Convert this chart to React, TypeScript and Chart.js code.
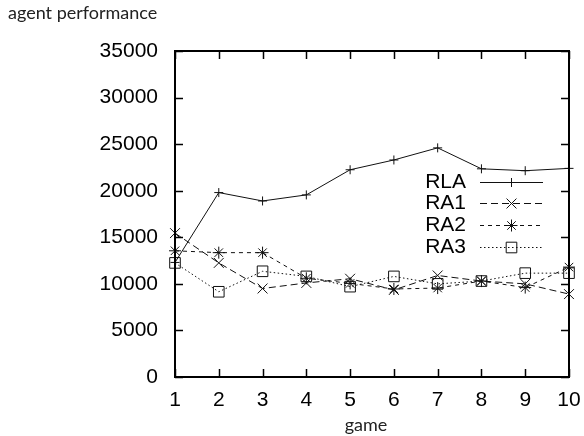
import React, { useEffect, useRef } from "react";
import { Chart, registerables } from "chart.js";
import { drawPoint } from "chart.js/helpers";

Chart.register(...registerables);

const chartTitle = "agent performance";
const xTitle = "game";
const games = [1, 2, 3, 4, 5, 6, 7, 8, 9, 10];
const seriesNames = ["RLA", "RA1", "RA2", "RA3"];
const rla = [12300, 19800, 18900, 19550, 22250, 23300, 24600, 22350, 22150, 22400];
const ra1 = [15450, 12250, 9500, 10100, 10550, 9350, 10900, 10300, 10000, 8900];
const ra2 = [13550, 13350, 13350, 10600, 10050, 9450, 9550, 10300, 9600, 11800];
const ra3 = [12250, 9150, 11350, 10800, 9700, 10800, 10000, 10300, 11150, 11150];
const yTicks = [0, 5000, 10000, 15000, 20000, 25000, 30000, 35000];

const TICK_FONT = "Liberation Sans, Arial, sans-serif";
const LABEL_FONT = "Lato, 'Open Sans', sans-serif";

const framePlugin = {
  id: "gnuFrame",
  afterDatasetsDraw(chart: any) {
    const { ctx, chartArea } = chart;
    const { left, right, top, bottom } = chartArea;
    const xs = chart.scales.x;
    const ys = chart.scales.y;
    ctx.save();
    ctx.strokeStyle = "#000";
    ctx.lineWidth = 2;
    ctx.strokeRect(left, top, right - left, bottom - top);
    ctx.lineWidth = 1.5;
    const tl = 8;
    ctx.beginPath();
    games.forEach((g) => {
      const px = Math.round(xs.getPixelForValue(g)) + 0.5;
      ctx.moveTo(px, bottom);
      ctx.lineTo(px, bottom - tl);
      ctx.moveTo(px, top);
      ctx.lineTo(px, top + tl);
    });
    yTicks.forEach((v) => {
      const py = Math.round(ys.getPixelForValue(v)) + 0.5;
      ctx.moveTo(left, py);
      ctx.lineTo(left + tl, py);
      ctx.moveTo(right, py);
      ctx.lineTo(right - tl, py);
    });
    ctx.stroke();

    // legend (gnuplot style: right-aligned labels, sample line with marker)
    const rows = [182, 203, 225, 247];
    const textRight = 466;
    const lx0 = 480;
    const lx1 = 543;
    chart.data.datasets.forEach((ds: any, i: number) => {
      const y = rows[i];
      ctx.fillStyle = "#000";
      ctx.font = "21px " + TICK_FONT;
      ctx.textAlign = "right";
      ctx.textBaseline = "middle";
      ctx.fillText(ds.label, textRight, y);
      ctx.save();
      ctx.strokeStyle = ds.borderColor;
      ctx.lineWidth = ds.borderWidth;
      ctx.setLineDash(ds.borderDash || []);
      ctx.beginPath();
      ctx.moveTo(lx0, y + 0.5);
      ctx.lineTo(lx1, y + 0.5);
      ctx.stroke();
      ctx.restore();
      ctx.save();
      ctx.strokeStyle = ds.pointBorderColor;
      ctx.fillStyle = "rgba(0,0,0,0)";
      ctx.lineWidth = 1;
      ctx.setLineDash([]);
      drawPoint(ctx, { pointStyle: ds.pointStyle, radius: ds.pointRadius, borderWidth: 1, rotation: 0 } as any, (lx0 + lx1) / 2, y + 0.5);
      ctx.restore();
    });

    // chart title and x-axis title
    ctx.fillStyle = "#222";
    ctx.font = "18px " + LABEL_FONT;
    ctx.textAlign = "left";
    ctx.textBaseline = "alphabetic";
    ctx.fillText(chartTitle, 8, 19);
    ctx.textAlign = "center";
    ctx.fillText(xTitle, 366, 431);
    ctx.restore();
  },
};

export default function App() {
  const ref = useRef<HTMLCanvasElement | null>(null);
  useEffect(() => {
    if (!ref.current) return;
    const mk = (label: string, vals: number[], dash: number[], style: string, radius: number) => ({
      label,
      data: vals.map((v, i) => ({ x: games[i], y: v })),
      borderColor: "#111",
      backgroundColor: "rgba(0,0,0,0)",
      borderWidth: 1,
      borderDash: dash,
      pointStyle: style,
      pointRadius: radius,
      pointBorderWidth: 1,
      pointBorderColor: "#111",
      pointBackgroundColor: "rgba(0,0,0,0)",
      tension: 0,
      clip: false as any,
    });
    const chart = new Chart(ref.current, {
      type: "line",
      data: {
        datasets: [
          mk(seriesNames[0], rla, [], "cross", 4.5),
          mk(seriesNames[1], ra1, [7, 4], "crossRot", 7),
          mk(seriesNames[2], ra2, [4, 4], "star", 6),
          mk(seriesNames[3], ra3, [1.5, 2.5], "rect", 7.5),
        ],
      },
      options: {
        responsive: false,
        animation: false,
        devicePixelRatio: 1,
        layout: { padding: { top: 51, right: 15, left: 0, bottom: 0 } },
        plugins: { legend: { display: false }, tooltip: { enabled: false } },
        scales: {
          x: {
            type: "linear",
            min: 1,
            max: 10,
            grid: { display: false },
            border: { display: false },
            ticks: {
              stepSize: 1,
              color: "#000",
              font: { family: TICK_FONT, size: 21 },
              padding: 3,
              maxRotation: 0,
              callback: (v: any) => String(v),
            },
            afterFit: (s: any) => {
              s.height = 59;
            },
          },
          y: {
            min: 0,
            max: 35000,
            grid: { display: false },
            border: { display: false },
            ticks: {
              stepSize: 5000,
              color: "#000",
              font: { family: TICK_FONT, size: 21 },
              padding: 9,
              callback: (v: any) => String(v),
            },
            afterFit: (s: any) => {
              s.width = 175;
            },
          },
        },
      },
      plugins: [framePlugin],
    } as any);
    return () => chart.destroy();
  }, []);
  return (
    <div style={{ position: "absolute", left: 0, top: 0, width: 584, height: 436, background: "#fff" }}>
      <canvas ref={ref} width={584} height={436} />
    </div>
  );
}
